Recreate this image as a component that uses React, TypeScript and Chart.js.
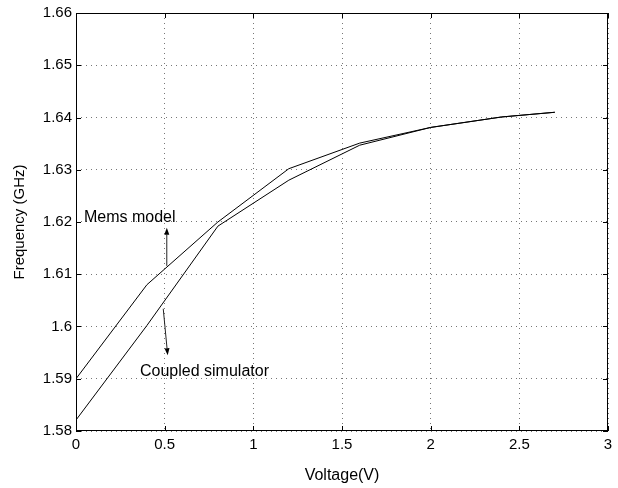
import React, { useEffect, useRef } from "react";
import { Chart, registerables } from "chart.js";

Chart.register(...registerables);

// ---- data ----
const voltage = [0, 0.4, 0.8, 1.2, 1.6, 2.0, 2.4, 2.7];
const memsModel = [1.59, 1.608, 1.62, 1.6302, 1.6351, 1.6381, 1.6401, 1.641];
const coupledSim = [1.5821, 1.6002, 1.6192, 1.628, 1.6347, 1.6381, 1.6401, 1.641];

const xTickValues = [0, 0.5, 1, 1.5, 2, 2.5, 3];
const xTickLabels = ["0", "0.5", "1", "1.5", "2", "2.5", "3"];
const yTickValues = [1.58, 1.59, 1.6, 1.61, 1.62, 1.63, 1.64, 1.65, 1.66];
const yTickLabels = ["1.58", "1.59", "1.6", "1.61", "1.62", "1.63", "1.64", "1.65", "1.66"];

// annotation texts and anchors (data coordinates)
const memsLabel = { text: "Mems model", x: 0.045, y: 1.6208 };
const memsArrow = { x0: 0.512, y0: 1.6116, x1: 0.512, y1: 1.6189 };
const coupledLabel = { text: "Coupled simulator", x: 0.361, y: 1.5914 };
const coupledArrow = { x0: 0.492, y0: 1.6034, x1: 0.517, y1: 1.5945 };

const FONT = "'Liberation Sans', Arial, Helvetica, sans-serif";

function drawArrow(ctx: CanvasRenderingContext2D, x0: number, y0: number, x1: number, y1: number) {
  const ang = Math.atan2(y1 - y0, x1 - x0);
  const len = 7;
  const hw = 2.5;
  const bx = x1 - len * Math.cos(ang);
  const by = y1 - len * Math.sin(ang);
  ctx.beginPath();
  ctx.moveTo(x0, y0);
  ctx.lineTo(bx, by);
  ctx.stroke();
  ctx.beginPath();
  ctx.moveTo(x1, y1);
  ctx.lineTo(bx + hw * Math.sin(ang), by - hw * Math.cos(ang));
  ctx.lineTo(bx - hw * Math.sin(ang), by + hw * Math.cos(ang));
  ctx.closePath();
  ctx.fill();
}

const decorPlugin = {
  id: "decor",
  afterDatasetsDraw(chart: any) {
    const { ctx, chartArea } = chart;
    const xs = chart.scales.x;
    const ys = chart.scales.y;
    const { left, right, top, bottom } = chartArea;
    ctx.save();
    // box
    ctx.strokeStyle = "#000";
    ctx.lineWidth = 1;
    ctx.strokeRect(left + 0.5, top + 0.5, right - left - 1, bottom - top - 1);
    // inward ticks
    const tl = 5;
    ctx.beginPath();
    xTickValues.forEach((v) => {
      const px = Math.round(xs.getPixelForValue(v)) + 0.5;
      ctx.moveTo(px, bottom);
      ctx.lineTo(px, bottom - tl);
      ctx.moveTo(px, top);
      ctx.lineTo(px, top + tl);
    });
    yTickValues.forEach((v) => {
      const py = Math.round(ys.getPixelForValue(v)) + 0.5;
      ctx.moveTo(left, py);
      ctx.lineTo(left + tl, py);
      ctx.moveTo(right, py);
      ctx.lineTo(right - tl, py);
    });
    ctx.stroke();

    // annotations
    ctx.fillStyle = "#000";
    ctx.font = `16px ${FONT}`;
    ctx.textBaseline = "middle";
    ctx.textAlign = "left";
    ctx.fillText(memsLabel.text, xs.getPixelForValue(memsLabel.x), ys.getPixelForValue(memsLabel.y));
    ctx.fillText(coupledLabel.text, xs.getPixelForValue(coupledLabel.x), ys.getPixelForValue(coupledLabel.y));

    ctx.strokeStyle = "#222";
    ctx.fillStyle = "#000";
    drawArrow(
      ctx,
      xs.getPixelForValue(memsArrow.x0),
      ys.getPixelForValue(memsArrow.y0),
      xs.getPixelForValue(memsArrow.x1),
      ys.getPixelForValue(memsArrow.y1)
    );
    drawArrow(
      ctx,
      xs.getPixelForValue(coupledArrow.x0),
      ys.getPixelForValue(coupledArrow.y0),
      xs.getPixelForValue(coupledArrow.x1),
      ys.getPixelForValue(coupledArrow.y1)
    );
    ctx.restore();
  },
};

export default function App() {
  const ref = useRef<HTMLCanvasElement | null>(null);

  useEffect(() => {
    if (!ref.current) return;
    const chart = new Chart(ref.current, {
      type: "line",
      data: {
        datasets: [
          {
            label: "Mems model",
            data: voltage.map((v, i) => ({ x: v, y: memsModel[i] })),
            borderColor: "#000",
            borderWidth: 1,
            pointRadius: 0,
            tension: 0,
            fill: false,
          },
          {
            label: "Coupled simulator",
            data: voltage.map((v, i) => ({ x: v, y: coupledSim[i] })),
            borderColor: "#000",
            borderWidth: 1,
            pointRadius: 0,
            tension: 0,
            fill: false,
          },
        ],
      },
      options: {
        animation: false,
        responsive: true,
        maintainAspectRatio: false,
        layout: { padding: { top: 11, right: 10, left: 0, bottom: 0 } },
        plugins: {
          legend: { display: false },
          tooltip: { enabled: false },
        },
        scales: {
          x: {
            type: "linear",
            min: 0,
            max: 3,
            afterBuildTicks: (scale: any) => {
              scale.ticks = xTickValues.map((v) => ({ value: v }));
            },
            afterFit: (scale: any) => {
              scale.height = 57;
            },
            ticks: {
              color: "#000",
              font: { family: FONT, size: 15 },
              padding: 5,
              maxRotation: 0,
              autoSkip: false,
              callback: (_v: any, i: number) => xTickLabels[i],
            },
            grid: {
              color: "#777",
              lineWidth: 1,
              drawTicks: false,
            },
            border: { display: false, dash: [1, 4] },
            title: {
              display: true,
              text: "Voltage(V)",
              color: "#000",
              font: { family: FONT, size: 16 },
              padding: { top: 0, bottom: 3 },
            },
          },
          y: {
            type: "linear",
            min: 1.58,
            max: 1.66,
            afterBuildTicks: (scale: any) => {
              scale.ticks = yTickValues.map((v) => ({ value: v }));
            },
            afterFit: (scale: any) => {
              scale.width = 76;
            },
            ticks: {
              color: "#000",
              font: { family: FONT, size: 15 },
              padding: 4,
              autoSkip: false,
              callback: (_v: any, i: number) => yTickLabels[i],
            },
            grid: {
              color: "#777",
              lineWidth: 1,
              drawTicks: false,
            },
            border: { display: false, dash: [1, 4] },
            title: {
              display: true,
              text: "Frequency (GHz)",
              color: "#000",
              font: { family: FONT, size: 15 },
              padding: { top: 11, bottom: 0 },
            },
          },
        },
      },
      plugins: [decorPlugin],
    });
    return () => chart.destroy();
  }, []);

  return (
    <div style={{ position: "absolute", left: 0, top: 0, width: 618, height: 488, background: "#fff" }}>
      <canvas ref={ref} />
    </div>
  );
}
